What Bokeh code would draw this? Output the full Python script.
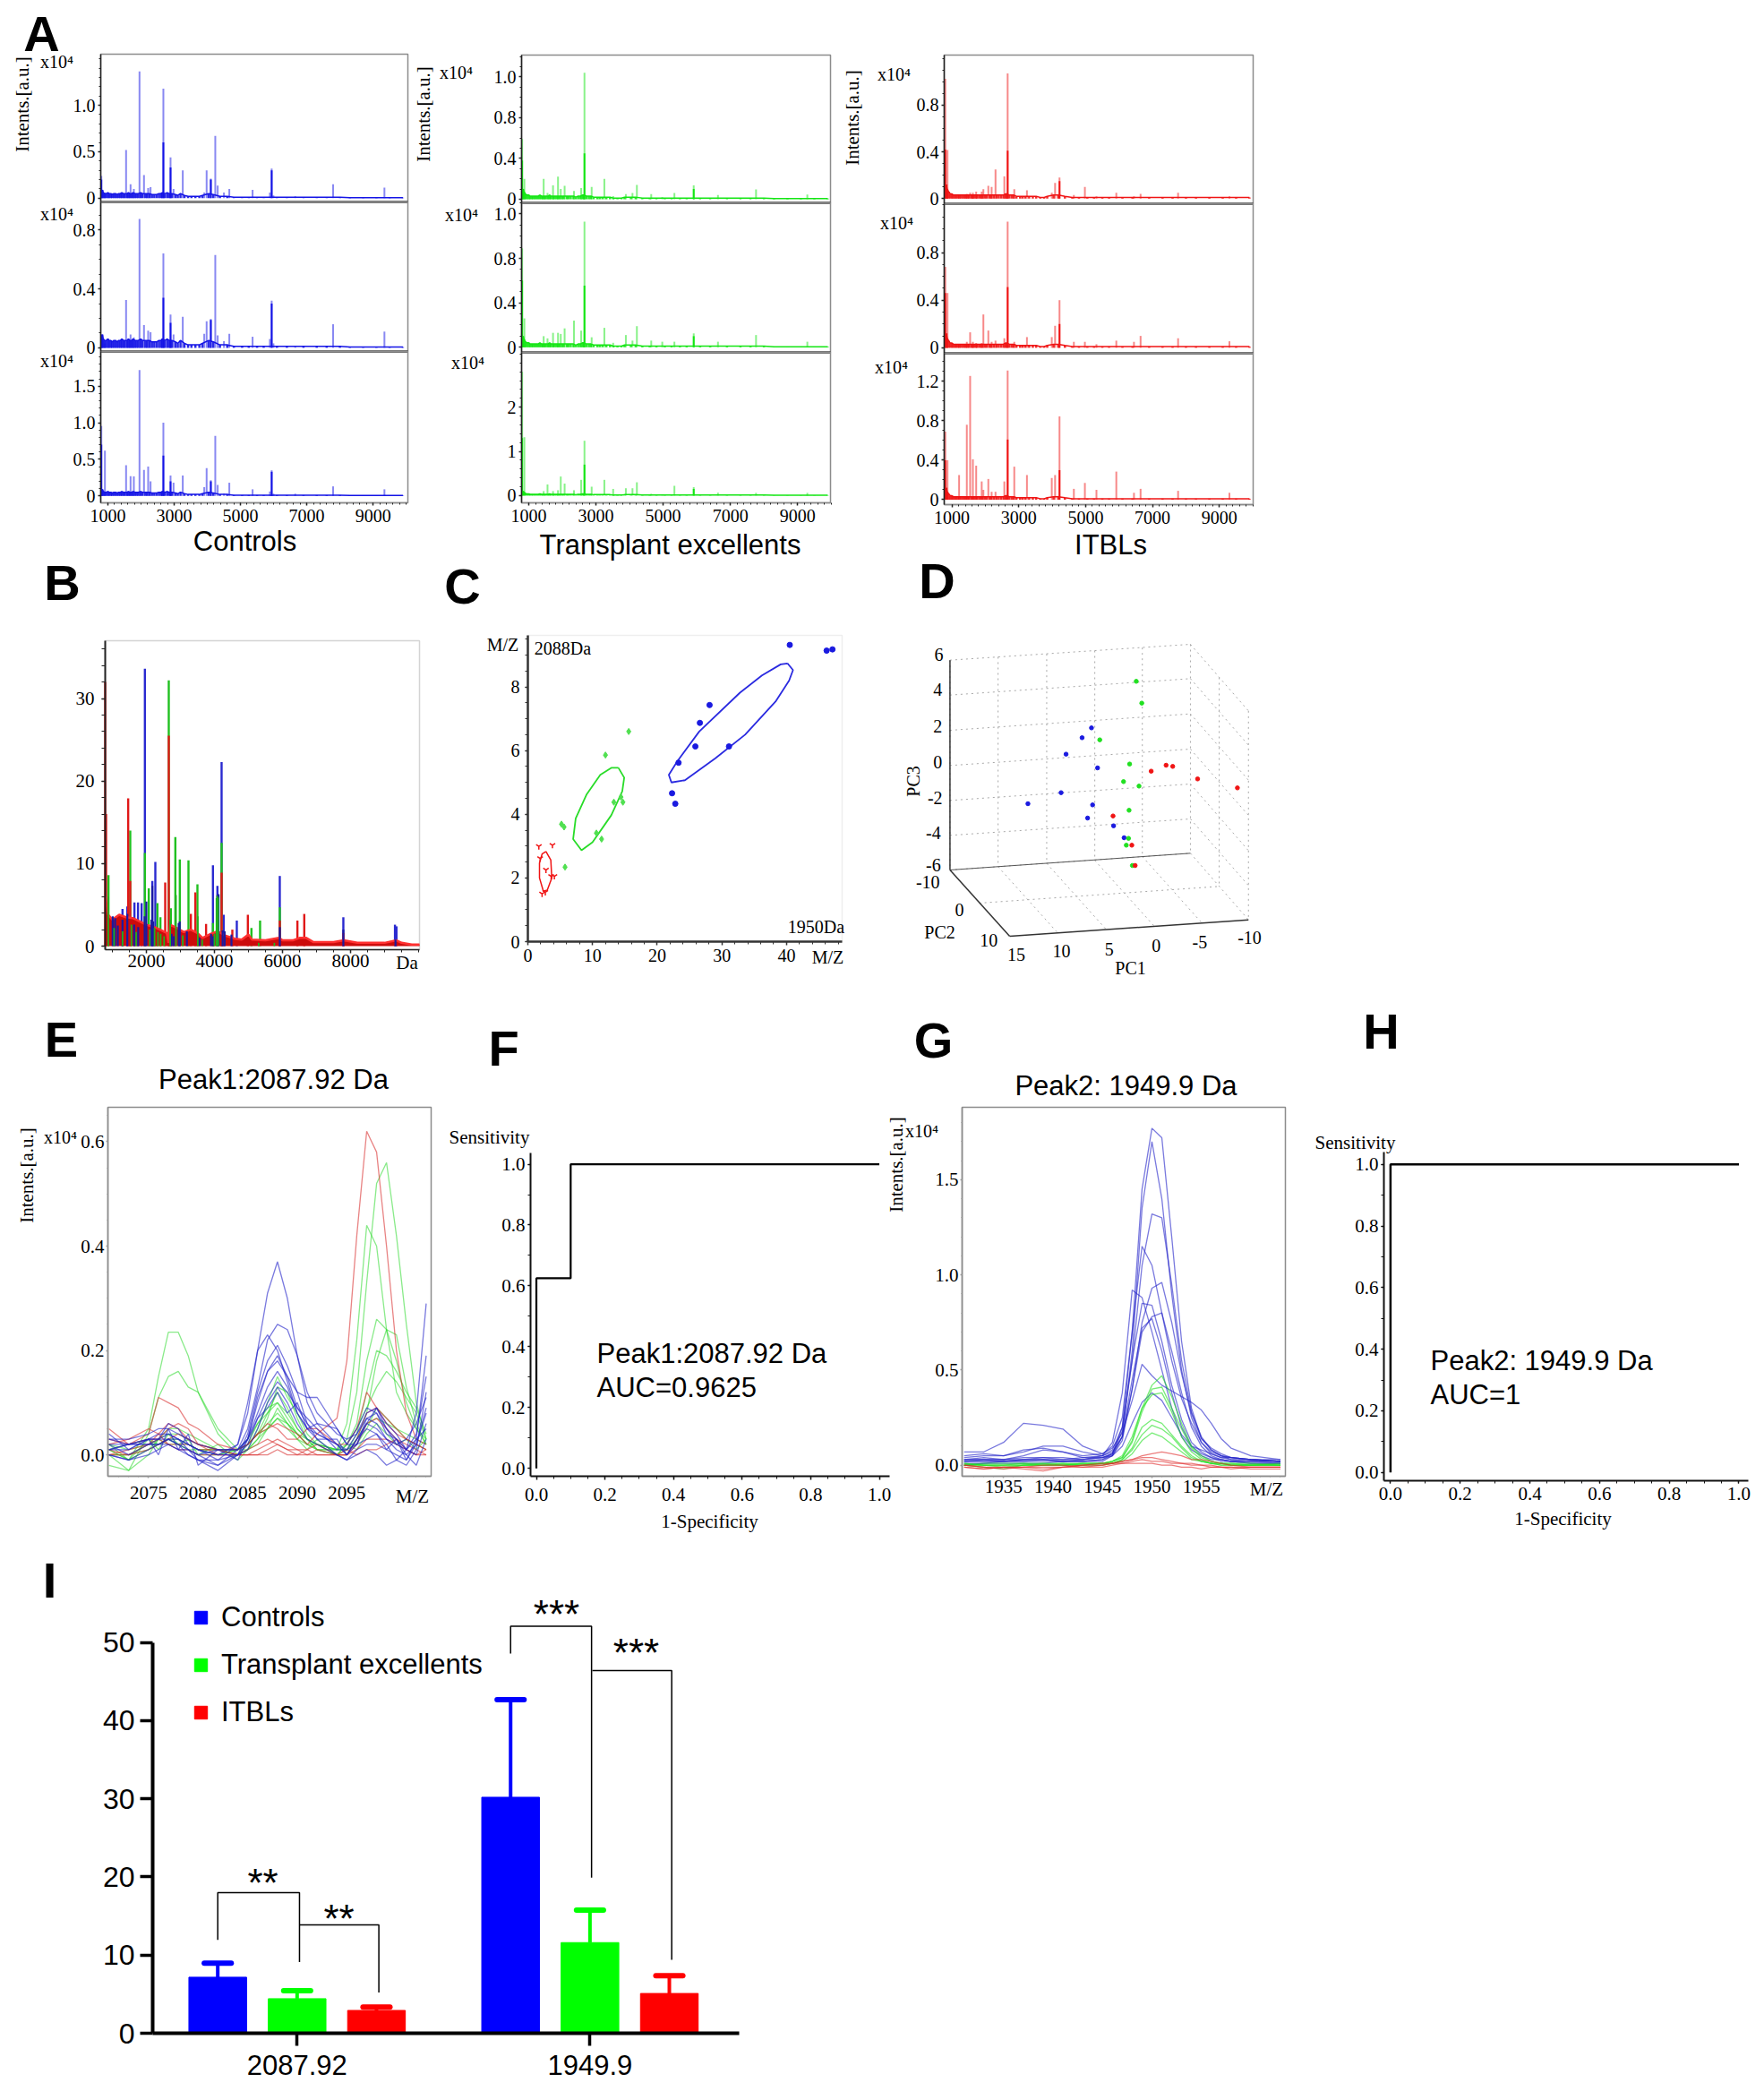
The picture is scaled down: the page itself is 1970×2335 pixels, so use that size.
import math
import numpy as np
from bokeh.core.properties import value
from bokeh.plotting import figure
from bokeh.models import Range1d, Label, FixedTicker, Legend, LegendItem, LinearAxis
from bokeh.embed import file_html
from bokeh.resources import INLINE

SERIF = "Liberation Serif"
SANS = "Liberation Sans"
BLUE, GREEN, RED = "#1414e6", "#14e614", "#f01414"
W, H = 1965, 2330

# ---------- A: spectra (intensity x10^4) ----------
BASE_MZ = [830,860,900,950,1000,1040,1090,1130,1180,1230,1280,1330,1380,1420,1470,1510,1580,1620,1660,1720,1760,1820,1870,1920,1990,2040,2130,2180,2250,2330,2400,2470,2540,2600,2640,2720,2790,2850,2930,3040,3110,3190,3310,3420,3520,3640,3760,3850,4040,4180,4380,4600,4800,5050,5250,5500,5700,6100,6400,6900,7300,7600,8000,8300,8700,9100,9500,9900]
CTRL_BASE = [.09,.06,.05,.05,.06,.05,.05,.04,.05,.05,.04,.05,.05,.06,.05,.05,.05,.06,.05,.05,.06,.05,.05,.05,.06,.05,.05,.05,.05,.04,.04,.04,.05,.05,.06,.05,.06,.05,.05,.04,.03,.05,.03,.02,.02,.02,.02,.03,.05,.04,.02,.02,.01,.01,.01,.01,.01,.01,.01,.01,.01,.01,.01,.005,.005,.005,.005,.005]
TX_BASE = [.10,.07,.05,.04,.04,.03,.03,.03,.03,.03,.03,.04,.03,.03,.03,.03,.03,.04,.03,.03,.03,.03,.03,.03,.03,.03,.03,.03,.03,.03,.02,.03,.03,.04,.04,.03,.03,.03,.02,.02,.02,.02,.02,.02,.01,.01,.01,.02,.02,.02,.01,.01,.01,.01,.01,.01,.01,.01,.01,.01,.01,.01,.01,.005,.005,.005,.005,.005]
ITBL_BASE = [.12,.08,.06,.04,.04,.03,.03,.03,.03,.03,.03,.03,.03,.03,.03,.03,.03,.03,.03,.03,.03,.03,.03,.03,.03,.03,.03,.03,.03,.03,.03,.03,.03,.04,.04,.03,.03,.03,.02,.02,.02,.02,.02,.02,.02,.01,.01,.02,.03,.03,.02,.01,.01,.01,.01,.01,.01,.01,.01,.01,.01,.01,.01,.01,.01,.01,.01,.01]

CTRL_MZ = [802,910,1549,1684,1783,1954,2089,2215,2287,2674,2890,2980,3259,3907,3979,4105,4240,4312,4501,4663,5365,5887,5941,5995,6652,7795,9343]
CTRL1 = [.24,.06,.52,.15,.1,1.365,.25,.11,.12,1.18,.44,.1,.3,.06,.3,.21,.67,.135,.06,.1,.09,.06,.32,.03,.02,.15,.115]
CTRL2 = [.09,.03,.325,.09,.07,.875,.155,.117,.105,.64,.225,.09,.21,.095,.18,.195,.63,.085,.045,.095,.075,.06,.32,.03,.01,.16,.11]
CTRL3 = [.955,.62,.42,.27,.265,1.72,.355,.4,.2,1.0,.28,.18,.28,.12,.38,.215,.82,.15,.03,.18,.09,.06,.35,.03,.03,.13,.09]
CTRL_DARK_MZ = [802,2674,2890,4105,5941]
CTRL1_DARK = [.2,.6,.33,.2,.3]
CTRL2_DARK = [.08,.34,.17,.19,.3]
CTRL3_DARK = [.7,.55,.2,.2,.33]

TX_MZ = [803,869,1443,1558,1722,1870,1952,2067,2346,2560,2658,2872,3250,3512,3890,4087,4218,4645,4974,5335,5910,6632,7765,9292]
TX1 = [.59,.2,.2,.06,.135,.22,.1,.13,.08,.11,1.24,.12,.2,.03,.05,.06,.14,.05,.02,.06,.135,.04,.095,.045]
TX2 = [.89,.26,.1,.08,.13,.13,.12,.17,.24,.15,1.13,.09,.175,.04,.11,.06,.19,.06,.05,.05,.125,.05,.11,.05]
TX3 = [2.8,1.32,.1,.25,.1,.12,.43,.27,.12,.355,1.24,.2,.355,.15,.165,.165,.3,.04,.03,.22,.19,.065,.06,.06]
TX_DARK_MZ = [803,2658,5910]
TX1_DARK = [.38,.45,.1]
TX2_DARK = [.6,.555,.1]
TX3_DARK = [1.3,.7,.15]

ITBL_MZ = [802,868,1215,1446,1545,1627,1726,1891,1941,2089,2188,2304,2568,2667,2865,3244,3987,4086,4218,4647,4977,5323,5917,6445,6643,7765,9300]
ITBL1 = [1.025,.415,.03,.04,.05,.05,.06,.06,.08,.11,.1,.25,.19,1.07,.08,.07,.05,.135,.18,.03,.1,.02,.05,.02,.04,.05,.02]
ITBL2 = [.68,.46,.03,.05,.13,.05,.04,.04,.28,.145,.05,.06,.08,1.06,.05,.09,.09,.185,.4,.05,.05,.03,.06,.05,.1,.08,.055]
ITBL3 = [.69,.4,.25,.76,1.255,.41,.345,.185,.1,.21,.08,.08,.185,1.31,.335,.25,.22,.25,.845,.11,.17,.1,.285,.07,.11,.09,.07]
ITBL_DARK_MZ = [802,2667,4218]
ITBL1_DARK = [.42,.41,.15]
ITBL2_DARK = [.46,.51,.2]
ITBL3_DARK = [.4,.61,.3]

# ---------- B: average spectra ----------
B_BLUE_MZ = [1298,1439,1649,1754,1860,1956,2175,2263,3956,4087,4210,4271,4657,5920,7788,9305,9349]
B_BLUE = [4.5,4.8,5.3,5.3,5.2,33.6,7.9,10.2,9.8,7.3,22.3,3.8,3.1,8.5,3.5,2.6,2.4]
B_GREEN_MZ = [886,1526,1956,2070,2324,2412,2658,2719,2851,2982,3237,3500,3956,4210,5087,5341,5920]
B_GREEN = [8.6,14,11.3,7,5.2,3.5,32.2,4.6,13.2,10.5,10.4,7.5,2.8,12.5,2.2,3.1,4.7]
B_RED_MZ = [790,816,1465,1526,2553,2658,3307,3438,3754,4210,4526,4982,5920,6438,6639,7788]
B_RED = [32,16,17.9,7.9,7.7,25.5,3.9,6.5,2.7,8.9,2,3.8,3.1,3.1,3.9,1.6]
B_ENV_MZ = [790,830,880,1000,1200,1400,1600,1800,2000,2300,2600,2650,2700,2900,3100,3300,3500,3650,3900,4100,4300,4600,4800,5000,5100,5500,5900,6000,6300,6500,6700,6900,7500,7800,8200,9000,9350,9500,9800,10026]
B_ENV = [6,5,3.8,3.2,3.8,3.5,3.4,3,2.6,2.2,1.6,.4,2.6,2.2,1.7,2,1.6,1,1.5,1.8,1.3,.9,.8,1.4,.8,.7,1,.7,.7,1,1,.5,.5,.7,.4,.4,.7,.4,.2,.2]
B_BLUE_LOW_MZ = [1010,1080,1160,1298,1439,1640,1760,1950,2000,2150,2175,2200,2740,2800,2950,2980,3190,3560,3900,3960,4090,4120,4240,4300,4500,5920,7788,9320]
B_BLUE_LOW = [3.6,3.4,2.5,3.2,3.9,2.6,2.3,3.6,5.4,3.2,7.3,3,1.5,1.2,2.8,3,1.8,1,1.5,1.2,6.2,6.3,1.9,1.8,1.4,2.3,2,.8]
B_GREEN_LOW_MZ = [880,1050,1300,1560,1700,2100,2240,2340,2420,2520,2700,2870,3070,3510,3640,4000,4060,4080,4110,5300,5760]
B_GREEN_LOW = [6,2.2,1.8,2.6,1.7,2,2.2,1.7,1.5,1.2,3.2,6.2,1.3,3.6,.8,1.5,5.8,6.1,5.9,.4,.4]

# ---------- C: two-peak scatter ----------
C_BLUE_X = [40.5,46.2,47.1,28.1,26.6,25.9,31.1,23.3,22.3,22.8]
C_BLUE_Y = [9.32,9.14,9.18,7.43,6.87,6.13,6.13,5.62,4.66,4.33]
C_GREEN_X = [15.6,12,13.3,14.4,14.7,10.6,11.4,5.2,5.6,5.75]
C_GREEN_Y = [6.6,5.86,4.38,4.54,4.38,3.41,3.22,3.69,3.6,2.34]
C_RED_X = [1.7,3.8,1.9,2.8,3.6,4.1,2.2,2.7]
C_RED_Y = [2.99,3.03,2.61,2.25,2.05,2.05,1.5,1.55]
C_BLUE_RING_X = [40.15,41,40.4,38.3,33.6,29,24.3,22.2,21.8,23.1,26.5,32.8,36.2,39.1,40.15]
C_BLUE_RING_Y = [8.74,8.53,8.2,7.54,6.5,5.76,5.07,5.0,5.24,5.66,6.6,7.82,8.36,8.71,8.74]
C_GREEN_RING_X = [14,14.9,14.6,12.9,10,8.3,7,7.4,9.1,11.2,12.9,14]
C_GREEN_RING_Y = [5.46,5.15,4.72,3.97,3.12,2.87,3.22,3.87,4.63,5.24,5.46,5.46]
C_RED_RING_X = [2.8,3.55,3.7,3,2.4,1.8,1.8,2.2,2.8]
C_RED_RING_Y = [2.83,2.56,2,1.62,1.58,2,2.47,2.75,2.83]

# ---------- D: 3-D PCA, projected onto the picture plane ----------
D_BLUE_X = [1206,1189,1160,1217,1151,1091,1208,1199,1246,1265]
D_BLUE_Y = [577,610,665,711,794,831,835,879,905,945]
D_GREEN_X = [1287,1297,1221,1275,1264,1292,1274,1273,1269,1280]
D_GREEN_Y = [421,494,617,698,757,772,853,947,970,1038]
D_RED_X = [1341,1353,1314,1398,1470,1245,1279,1285]
D_RED_Y = [702,706,722,748,778,872,970,1038]
D_WALL_Y_LEFT = [350,467,585,703,820,937,1053]
D_WALL_Y_MID = [297,412,530,648,765,882,997]
D_WALL_Y_RIGHT = [520,635,752,870,988,1105,1220]
D_V_X = [950,1037,1125,1212,1298,1385]
D_V_TOP = [350,339,329,318,308,297]
D_V_BOT = [1053,1042,1031,1021,1008,997]
D_FLOOR_X = [1145,1233,1320,1406]
D_FLOOR_Y = [1264,1253,1242,1231]
D_YTICK = ["6","4","2","0","-2","-4","-6"]
D_YTICK_X = [930,928,928,928,923,920,920]
D_YTICK_Y = [330,448,570,692,810,928,1035]
D_PC1 = ["15","10","5","0","-5","-10"]
D_PC1_X = [1070,1152,1238,1323,1402,1492]
D_PC1_Y = [1335,1323,1318,1305,1295,1278]
D_PC2 = ["-10","0","10"]
D_PC2_X = [910,967,1020]
D_PC2_Y = [1092,1185,1287]

# ---------- E: peak 1 overlays ----------
E_X = [2071,2073,2075,2076,2077,2078,2079,2080,2082,2084,2085,2086,2087,2088,2089,2090,2091,2092,2094,2095,2096,2097,2098,2099,2100,2101,2102,2103]
E_GREEN = [
 [.01,-.01,.01,.02,.03,.02,.02,.01,.00,.01,.02,.04,.06,.08,.06,.04,.02,.01,.01,.03,.12,.33,.52,.56,.42,.25,.10,.03],
 [.00,.00,.02,.03,.02,.02,.01,.00,.00,.01,.03,.06,.09,.10,.07,.04,.02,.02,.01,.06,.22,.44,.40,.24,.12,.08,.05,.02],
 [.01,.02,.03,.02,.03,.03,.02,.01,.01,.00,.01,.03,.07,.13,.12,.07,.03,.02,.00,.02,.06,.18,.26,.24,.18,.10,.05,.03],
 [.00,.00,.01,.03,.04,.04,.03,.02,.01,.01,.02,.04,.05,.07,.06,.04,.03,.01,.01,.01,.03,.08,.18,.24,.23,.13,.06,.02],
 [.02,.01,.02,.02,.03,.02,.01,.01,.01,.00,.01,.05,.10,.15,.11,.08,.04,.02,.01,.01,.04,.12,.20,.19,.16,.12,.09,.04],
 [.01,-.01,.05,.15,.235,.235,.19,.12,.05,.01,.01,.03,.05,.09,.06,.03,.02,.01,.00,.01,.02,.05,.09,.07,.05,.03,.02,.01],
 [-.02,-.03,.04,.11,.15,.16,.13,.12,.04,.00,.02,.04,.08,.12,.09,.05,.03,.02,.01,.02,.05,.09,.13,.16,.14,.11,.08,.03],
 [.00,-.03,.00,.03,.05,.05,.04,.03,.01,.01,.02,.06,.08,.10,.08,.05,.03,.01,.00,.00,.03,.06,.07,.06,.05,.04,.03,.02],
 [.02,-.01,.03,.01,.04,.02,.03,.00,.02,-.01,.01,.02,.05,.07,.05,.03,.01,.03,.00,.02,.01,.04,.06,.04,.02,.03,.01,.03],
]
E_RED = [
 [.03,.02,.03,.03,.02,.02,.02,.01,.01,.01,.02,.04,.05,.06,.05,.04,.02,.04,.07,.18,.42,.62,.58,.40,.20,.08,.03,.02],
 [.05,.02,.04,.11,.10,.09,.06,.05,.02,.01,.02,.04,.06,.05,.03,.03,.05,.05,.02,.02,.05,.12,.09,.06,.04,.03,.02,.01],
 [.00,.01,.02,.04,.06,.05,.03,.02,.01,.00,.00,.01,.02,.03,.02,.01,.01,.00,.00,.00,.03,.08,.09,.07,.05,.03,.02,.01],
 [.01,.00,.01,.02,.03,.04,.03,.02,.00,.00,.00,.00,.01,.02,.01,.00,.01,.02,.00,.00,.01,.03,.03,.03,.02,.01,.00,.01],
 [.00,.00,.02,.03,.05,.06,.05,.02,.01,.00,.00,.00,.00,.01,.00,.00,.00,.00,.00,.01,.00,.01,.01,.02,.03,.01,.00,.00],
 [.02,.03,.05,.04,.02,.01,.01,.00,.00,.00,.01,.02,.03,.02,.01,.01,.00,.01,.00,.00,.02,.06,.07,.05,.03,.02,.01,.00],
]
E_BLUE = [
 [.01,.01,.03,.03,.04,.03,.02,.01,-.01,.02,.08,.20,.31,.37,.30,.19,.10,.06,.02,.01,.04,.08,.09,.06,.04,.01,.08,.29],
 [.02,.00,.02,.03,.03,.03,.01,.00,-.02,.01,.05,.13,.22,.25,.24,.19,.12,.08,.04,.03,.04,.07,.06,.03,.01,.00,.02,.09],
 [.03,.02,.03,.04,.04,.03,.02,.01,.00,.02,.10,.20,.23,.20,.14,.08,.05,.06,.05,.02,.05,.09,.08,.05,.02,.01,.04,.15],
 [.00,-.01,.01,.02,.03,.02,.01,-.01,-.03,.00,.04,.12,.18,.21,.17,.12,.06,.03,.00,-.01,.01,.02,.02,.01,.00,-.01,.03,.19],
 [.03,.03,.04,.05,.05,.04,.03,.02,.01,.01,.03,.10,.16,.19,.15,.09,.06,.04,.02,.00,.03,.06,.05,.03,.02,.03,.06,.11],
 [.01,.02,.02,.02,.02,.01,.01,.00,.01,.01,.03,.08,.13,.16,.13,.08,.05,.04,.02,.00,.02,.06,.09,.05,.03,.01,.00,.06],
 [.02,.02,.03,.03,.06,.05,.02,.01,.00,.00,.02,.07,.11,.14,.12,.09,.07,.05,.01,.01,.02,.07,.08,.04,.03,.00,-.02,.03],
 [.01,.02,.02,.02,.03,.02,.00,-.01,-.01,.00,.03,.11,.16,.18,.15,.12,.11,.11,.05,.02,.02,.03,.04,.02,-.01,-.02,.01,.12],
 [.00,-.01,.00,.01,.02,.01,.00,-.01,-.02,.00,.01,.05,.10,.13,.10,.06,.03,.02,.00,-.01,.00,.01,.00,-.02,-.01,.01,.03,.05],
 [.04,.01,.03,.00,.05,.01,.04,-.02,.01,-.01,.03,.07,.09,.12,.08,.10,.05,.03,.03,.00,.03,.05,.04,.01,.03,-.01,.02,.08],
]

# ---------- G: peak 2 overlays ----------
G_X = [1931,1933,1935,1937,1939,1941,1943,1945,1946,1947,1948,1949,1950,1951,1952,1953,1954,1955,1956,1957,1958,1960,1963]
G_BLUE = [
 [.03,.04,.03,.04,.04,.03,.04,.05,.08,.20,.70,1.45,1.77,1.72,1.20,.65,.30,.14,.08,.05,.04,.03,.02],
 [.02,.03,.03,.03,.03,.03,.03,.04,.06,.15,.60,1.35,1.70,1.40,.90,.50,.25,.12,.06,.04,.03,.02,.02],
 [.03,.03,.02,.03,.04,.04,.03,.04,.06,.18,.55,1.05,1.32,1.30,.95,.55,.28,.15,.08,.05,.03,.03,.02],
 [.05,.06,.05,.08,.09,.07,.05,.06,.10,.25,.70,1.15,1.05,.80,.55,.35,.22,.12,.07,.05,.04,.03,.03],
 [.02,.02,.02,.03,.03,.02,.03,.05,.12,.38,.92,.88,.70,.50,.30,.15,.08,.05,.03,.03,.02,.02,.01],
 [.04,.05,.05,.07,.10,.10,.07,.05,.07,.15,.40,.75,.93,.96,.75,.48,.27,.14,.09,.06,.04,.03,.02],
 [.01,.01,.02,.02,.02,.02,.02,.03,.06,.20,.55,.85,.84,.65,.42,.24,.12,.07,.04,.03,.02,.01,.01],
 [.00,.01,.01,.01,.01,.02,.02,.02,.05,.13,.40,.70,.78,.80,.60,.38,.20,.10,.05,.03,.02,.01,.01],
 [.02,.02,.02,.02,.03,.02,.02,.03,.05,.15,.45,.72,.77,.60,.38,.20,.10,.06,.04,.02,.02,.02,.02],
 [.07,.07,.12,.22,.21,.19,.10,.06,.09,.17,.34,.53,.47,.42,.39,.36,.33,.29,.22,.14,.09,.05,.03],
 [.03,.03,.03,.05,.08,.07,.04,.04,.05,.10,.22,.33,.38,.34,.25,.16,.10,.08,.06,.04,.04,.03,.02],
]
G_GREEN = [
 [.00,.01,.01,.01,.01,.01,.01,.01,.02,.04,.13,.30,.42,.47,.36,.22,.10,.05,.02,.01,.01,.01,.00],
 [.01,.00,.00,.01,.00,.00,.01,.01,.02,.04,.12,.28,.40,.41,.30,.19,.09,.04,.02,.01,.00,.00,.01],
 [.00,.00,-.01,.00,.01,.00,.00,.01,.02,.05,.15,.30,.37,.38,.28,.15,.07,.03,.01,.01,.01,.00,.00],
 [.01,.00,.00,.00,.00,.01,.00,.01,.01,.03,.09,.20,.24,.22,.16,.10,.05,.02,.01,.00,.00,.00,.00],
 [.00,-.01,-.02,.00,.00,.00,.01,.01,.01,.03,.08,.16,.21,.19,.15,.09,.04,.02,.01,.01,.00,.00,.00],
 [.00,.00,.00,.00,.00,.00,.00,.00,.01,.02,.06,.13,.17,.15,.11,.07,.03,.02,.01,.00,.00,.00,.00],
]
G_RED = [
 [.00,-.01,-.01,-.01,-.02,-.01,.00,.01,.01,.02,.03,.05,.06,.07,.06,.05,.03,.03,.02,.01,.00,-.01,-.01],
 [-.01,-.02,-.01,-.02,-.03,-.01,.00,.00,.01,.02,.03,.04,.04,.03,.02,.01,.01,.00,.00,-.01,-.01,-.01,-.01],
 [.00,-.01,-.02,-.01,-.01,-.01,-.01,.00,.01,.01,.02,.03,.02,.02,.01,.01,.00,.00,-.01,-.01,-.01,-.02,-.02],
 [-.01,-.02,-.01,-.01,.00,.00,-.01,-.01,.00,.01,.01,.01,.01,.00,.00,-.01,-.01,-.02,-.01,-.01,-.02,-.01,-.01],
]

# ---------- F / H: ROC ----------
F_FPR = [0,0,0.1,0.1,1.0]
F_TPR = [0,0.625,0.625,1.0,1.0]
H_FPR = [0,0,1.0]
H_TPR = [0,1.0,1.0]

# ---------- I: bars ----------
GROUPS = ["2087.92", "1949.9"]
GROUP_POS = [2, 5.69]
CONTROLS = [7.17, 30.2]
CONTROLS_ERR = [8.98, 42.7]
TX = [4.42, 11.6]
TX_ERR = [5.44, 15.75]
ITBLS = [2.92, 5.09]
ITBLS_ERR = [3.36, 7.35]
BR1_X, BR1_Y = [1,1,2.03,2.03], [11.95,18,18,9.1]
BR2_X, BR2_Y = [2.03,3.03,3.03], [13.86,13.86,5.2]
BR3_X, BR3_Y = [4.69,4.69,5.71,5.71], [48.6,52.1,52.1,19.9]
BR4_X, BR4_Y = [5.72,6.72,6.72], [46.4,46.4,9.4]

# One page-sized figure; every panel owns a named pair of ranges and its own axes.
PAGE = figure(width=W, height=H, output_backend="svg", toolbar_location=None,
              x_range=Range1d(0, W), y_range=Range1d(H, 0),
              x_axis_location=None, y_axis_location=None, min_border=0, frame_align=False,
              background_fill_color="white", border_fill_color="white")
PAGE.grid.visible = False
PAGE.outline_line_color = None
COUNT = [0]

class Panel:
    def __init__(self, frame, xr, yr, x_axis=True, y_axis=True, outline="#8c8c8c"):
        fl, ft, fr, fb = frame
        sx = (xr[1] - xr[0]) / (fr - fl)
        sy = (yr[1] - yr[0]) / (fb - ft)
        COUNT[0] += 1
        self.xn, self.yn = f"x{COUNT[0]}", f"y{COUNT[0]}"
        PAGE.extra_x_ranges[self.xn] = Range1d(xr[0] - fl * sx, xr[1] + (W - fr) * sx)
        PAGE.extra_y_ranges[self.yn] = Range1d(yr[0] - (H - fb) * sy, yr[1] + ft * sy)
        self.xaxis, self.yaxis = [], []
        if x_axis:
            a = LinearAxis(x_range_name=self.xn, y_range_name=self.yn, fixed_location=yr[0], bounds=tuple(xr))
            PAGE.add_layout(a, "below")
            self.xaxis.append(a)
        if y_axis:
            a = LinearAxis(x_range_name=self.xn, y_range_name=self.yn, fixed_location=xr[0], bounds=tuple(yr))
            PAGE.add_layout(a, "left")
            self.yaxis.append(a)
        if outline:
            self.quad(left=[xr[0]], right=[xr[1]], bottom=[yr[0]], top=[yr[1]],
                      fill_alpha=0, line_color=outline, line_width=1.5)

    def __getattr__(self, name):
        method = getattr(PAGE, name)
        def call(*a, **k):
            return method(*a, x_range_name=self.xn, y_range_name=self.yn, **k)
        return call

def txt(x, y, s, size=20, font=SERIF, angle=0, align="center", style="normal"):
    PAGE.add_layout(Label(x=x, y=y, x_units="canvas", y_units="canvas", text=s,
                          text_font=font, text_font_size=f"{size}px", text_font_style=style,
                          text_align=align, text_baseline="middle", angle=angle,
                          text_color="black"))

def letter(x, y, s):
    txt(x, y, s, size=56, font=SANS, style="bold")

def axis(ax, majors, labels, minors=(), size=20, font=SERIF, standoff=3, color="#222222",
         line_width=1.5, tick=3, minor=2, line_color=None):
    ax.ticker = FixedTicker(ticks=list(majors), minor_ticks=list(minors))
    ax.major_label_overrides = {m: l for m, l in zip(majors, labels)}
    ax.major_label_text_font = font
    ax.major_label_text_font_size = f"{size}px"
    ax.major_label_text_color = "black"
    ax.major_label_standoff = standoff
    ax.axis_line_color = line_color if line_color else color
    ax.axis_line_width = line_width
    ax.major_tick_line_color = color
    ax.minor_tick_line_color = color
    ax.major_tick_line_width = 1.5
    ax.minor_tick_line_width = 1
    ax.major_tick_in = 0
    ax.major_tick_out = tick
    ax.minor_tick_in = 0
    ax.minor_tick_out = minor

def stems(p, mz, h, color, alpha=1.0, width=1.5):
    xs = [m for m, _ in zip(mz, h)]
    ys = [v for _, v in zip(mz, h)]
    p.segment(x0=xs, y0=[0] * len(xs), x1=xs, y1=ys, line_color=color, line_alpha=alpha, line_width=width)

def spectrum(frame, xr, yr, color, mz, h, dmz, dh, base, yt, yl, ym, bottom):
    p = Panel(frame, xr, yr, x_axis=bottom)
    xs = [m for m, _ in zip(BASE_MZ, base)]
    p.line(xs, base[:len(xs)], line_color=color, line_width=1.5)
    stems(p, BASE_MZ, base, color, 0.9, 2.5)
    stems(p, mz, h, color, 0.5, 2)
    stems(p, dmz, dh, color, 1.0, 2)
    axis(p.yaxis[0], yt, yl, ym)
    if bottom:
        axis(p.xaxis[0], [1000,3000,5000,7000,9000], ["1000","3000","5000","7000","9000"],
             list(range(1000, 10001, 200)), standoff=4, line_color="#8c8c8c")
    else:
        p.segment(x0=[xr[0]], y0=[yr[0]], x1=[xr[1]], y1=[yr[0]], line_color="black", line_width=2)
    return p

def rng(a, b, s):
    return [round(float(v), 3) for v in np.arange(a, b + s / 2, s)]

X10 = "x10\u2074"
INT = "Intents.[a.u.]"
UP = math.pi / 2

# ---- Panel A ----
spectrum((112,60,455,225),(784,10050),(-0.04,1.55),BLUE,CTRL_MZ,CTRL1,CTRL_DARK_MZ,CTRL1_DARK,CTRL_BASE,[0,.5,1.0],["0","0.5","1.0"],rng(0,1.5,.1),False)
spectrum((112,225,455,392),(784,10050),(-0.025,0.99),BLUE,CTRL_MZ,CTRL2,CTRL_DARK_MZ,CTRL2_DARK,CTRL_BASE,[0,.4,.8],["0","0.4","0.8"],rng(0,.9,.1),False)
spectrum((112,392,455,561),(784,10050),(-0.095,1.975),BLUE,CTRL_MZ,CTRL3,CTRL_DARK_MZ,CTRL3_DARK,CTRL_BASE,[0,.5,1.0,1.5],["0","0.5","1.0","1.5"],rng(0,1.9,.1),True)
letter(46, 37, "A")
txt(24, 116, INT, 21, angle=UP)
txt(63, 68, X10, 20)
txt(63, 238, X10, 20)
txt(63, 402, X10, 20)
txt(273, 604, "Controls", 31, SANS)

spectrum((582,61,927,226),(786,9982),(-0.036,1.414),GREEN,TX_MZ,TX1,TX_DARK_MZ,TX1_DARK,TX_BASE,[0,.4,.8,1.2],["0","0.4","0.8","1.0"],rng(0,1.4,.1),False)
spectrum((582,226,927,393),(786,9982),(-0.046,1.3),GREEN,TX_MZ,TX2,TX_DARK_MZ,TX2_DARK,TX_BASE,[0,.4,.8,1.2],["0","0.4","0.8","1.0"],rng(0,1.3,.1),False)
spectrum((582,393,927,561),(786,9982),(-0.165,3.24),GREEN,TX_MZ,TX3,TX_DARK_MZ,TX3_DARK,TX_BASE,[0,1,2],["0","1","2"],rng(0,3.2,.2),True)
txt(472, 127, INT, 21, angle=UP)
txt(509, 80, X10, 20)
txt(515, 239, X10, 20)
txt(522, 404, X10, 20)
txt(748, 608, "Transplant excellents", 31, SANS)

spectrum((1054,61,1399,227),(770,10010),(-0.044,1.228),RED,ITBL_MZ,ITBL1,ITBL_DARK_MZ,ITBL1_DARK,ITBL_BASE,[0,.4,.8],["0","0.4","0.8"],rng(0,1.2,.1),False)
spectrum((1054,227,1399,394),(770,10010),(-0.046,1.21),RED,ITBL_MZ,ITBL2,ITBL_DARK_MZ,ITBL2_DARK,ITBL_BASE,[0,.4,.8],["0","0.4","0.8"],rng(0,1.2,.1),False)
spectrum((1054,394,1399,563),(770,10010),(-0.05,1.485),RED,ITBL_MZ,ITBL3,ITBL_DARK_MZ,ITBL3_DARK,ITBL_BASE,[0,.4,.8,1.2],["0","0.4","0.8","1.2"],rng(0,1.4,.1),True)
txt(951, 131, INT, 21, angle=UP)
txt(998, 82, X10, 20)
txt(1001, 248, X10, 20)
txt(995, 409, X10, 20)
txt(1240, 608, "ITBLs", 31, SANS)

# ---- Panel B ----
b = Panel((117,715,468,1060),(790,10026),(-0.43,37.0),outline="#d4d4d4")
stems(b, B_BLUE_MZ, B_BLUE, "#2a2ad0", 1, 2.4)
stems(b, B_GREEN_MZ, B_GREEN, "#20c020", 1, 2.4)
stems(b, B_RED_MZ, B_RED, "#e01818", 1, 2.4)
b.varea(x=B_ENV_MZ, y1=[0]*len(B_ENV), y2=B_ENV, fill_color="#cc0c0c")
b.line(B_ENV_MZ, B_ENV, line_color="#ff3030", line_width=2.5)
stems(b, B_BLUE_LOW_MZ, B_BLUE_LOW, "#1a1aa0", 1, 2.2)
stems(b, B_GREEN_LOW_MZ, B_GREEN_LOW, "#20b020", 1, 1.8)
axis(b.xaxis[0], [2000,4000,6000,8000], ["2000","4000","6000","8000"], list(range(1000,10001,500)), size=21, standoff=1, tick=4, minor=3)
axis(b.yaxis[0], [0,10,20,30], ["0","10","20","30"], rng(0,36,2), size=21, standoff=8, line_width=2, tick=4, minor=4)
letter(69, 650, "B")
txt(454, 1074, "Da", 21)

# ---- Panel C ----
c = Panel((589,709,940,1051),(0,48.6),(0,9.62),outline="#eeeeee")
c.line(C_BLUE_RING_X, C_BLUE_RING_Y, line_color="#2a2ae0", line_width=1.8)
c.line(C_GREEN_RING_X, C_GREEN_RING_Y, line_color="#28dc28", line_width=1.8)
c.line(C_RED_RING_X, C_RED_RING_Y, line_color="#f01414", line_width=1.5)
c.scatter(C_BLUE_X, C_BLUE_Y, marker="circle", size=6, color="#1a1ae0")
c.scatter(C_GREEN_X, C_GREEN_Y, marker="diamond", size=7, color="#50e050")
c.scatter(C_RED_X, C_RED_Y, marker="y", size=7, line_color="#f01414", line_width=1.5)
axis(c.xaxis[0], [0,10,20,30,40], ["0","10","20","30","40"], rng(0,48,2), standoff=4, color="#333333", line_width=2.5, tick=4, minor=3)
axis(c.yaxis[0], [0,2,4,6,8], ["0","2","4","6","8"], rng(0,9.5,.5), standoff=6, color="#333333", line_width=2.5, tick=3, minor=3)
letter(516, 654, "C")
txt(561, 719, "M/Z", 20)
txt(628, 723, "2088Da", 20)
txt(911, 1034, "1950Da", 20)
txt(924, 1068, "M/Z", 20)

# ---- Panel D ----
d = Panel((994,626,1414,1120),(842.4,1522.8),(1500,18),x_axis=False,y_axis=False,outline=None)
DOT = dict(line_color="#a8a8a8", line_width=1, line_dash="dotted")
d.segment(x0=[D_V_X[0]]*7, y0=D_WALL_Y_LEFT, x1=[D_V_X[-1]]*7, y1=D_WALL_Y_MID, **DOT)
d.segment(x0=[D_V_X[-1]]*7, y0=D_WALL_Y_MID, x1=[1490]*7, y1=D_WALL_Y_RIGHT, **DOT)
d.segment(x0=D_V_X, y0=D_V_TOP, x1=D_V_X, y1=D_V_BOT, **DOT)
d.segment(x0=[1437,1490,1003], y0=[408,520,1164], x1=[1437,1490,1437], y1=[1108,1220,1108], **DOT)
d.segment(x0=D_V_X[1:5], y0=D_V_BOT[1:5], x1=D_FLOOR_X, y1=D_FLOOR_Y, **DOT)
d.segment(x0=[950], y0=[1053], x1=[1385], y1=[997], line_color="#555555", line_width=1)
d.segment(x0=[950,1058,950], y0=[1053,1275,350], x1=[1058,1490,950], y1=[1275,1220,1053], line_color="#333333", line_width=1.5)
d.scatter(D_BLUE_X, D_BLUE_Y, size=4.5, color="#1a1ae0")
d.scatter(D_GREEN_X, D_GREEN_Y, size=4.5, color="#20e020")
d.scatter(D_RED_X, D_RED_Y, size=4.5, color="#f01414")
D_FONT = dict(text_font=value(SERIF), text_font_size=value("20px"), text_align="center", text_baseline="middle", text_color="black")
d.text(D_YTICK_X, D_YTICK_Y, text=D_YTICK, **D_FONT)
d.text(D_PC1_X, D_PC1_Y, text=D_PC1, **D_FONT)
d.text(D_PC2_X, D_PC2_Y, text=D_PC2, **D_FONT)
letter(1046, 648, "D")
txt(1019, 872, "PC3", 20, angle=UP)
txt(1049, 1040, "PC2", 20)
txt(1262, 1080, "PC1", 20)

# ---- Panel E ----
e = Panel((120,1236,481,1648),(2070.9,2103.5),(-0.041,0.666))
for s in E_GREEN:
    e.line(E_X, s, line_color="#28d828", line_alpha=0.55, line_width=1.3)
for s in E_RED:
    e.line(E_X, s, line_color="#d83030", line_alpha=0.6, line_width=1.3)
for s in E_BLUE:
    e.line(E_X, s, line_color="#2020c8", line_alpha=0.6, line_width=1.3)
axis(e.xaxis[0], [2075,2080,2085,2090,2095], ["2075","2080","2085","2090","2095"], rng(2072,2103,1), size=21, standoff=9, color="#999999", line_color="#8c8c8c", tick=2, minor=1)
axis(e.yaxis[0], [0,.2,.4,.6], ["0.0","0.2","0.4","0.6"], rng(0,.65,.05), size=21, standoff=2, color="#999999", line_color="#8c8c8c", tick=2, minor=1)
letter(68, 1160, "E")
txt(305, 1205, "Peak1:2087.92 Da", 31, SANS)
txt(29, 1312, INT, 21, angle=UP)
txt(67, 1269, X10, 20)
txt(460, 1670, "M/Z", 21)

# ---- Panel F ----
f = Panel((592,1287,993,1648),(-0.017,1.03),(-0.026,1.037),outline=None)
f.line(F_FPR, F_TPR, line_color="black", line_width=2.2)
axis(f.xaxis[0], [0,.2,.4,.6,.8,1.0], ["0.0","0.2","0.4","0.6","0.8","1.0"], rng(0,1,.05), size=21, standoff=9, color="#111111", line_width=2, tick=4, minor=3)
axis(f.yaxis[0], [0,.2,.4,.6,.8,1.0], ["0.0","0.2","0.4","0.6","0.8","1.0"], rng(0,1,.1), size=21, standoff=3, color="#111111", line_width=2, tick=3, minor=3)
letter(562, 1170, "F")
txt(546, 1269, "Sensitivity", 21)
txt(792, 1698, "1-Specificity", 21)
txt(666, 1511, "Peak1:2087.92 Da", 31, SANS, align="left")
txt(666, 1549, "AUC=0.9625", 31, SANS, align="left")

# ---- Panel G ----
g = Panel((1074,1236,1435,1648),(1930.8,1963.5),(-0.058,1.88))
for s in G_BLUE:
    g.line(G_X, s, line_color="#2020c8", line_alpha=0.6, line_width=1.3)
for s in G_GREEN:
    g.line(G_X, s, line_color="#20e020", line_alpha=0.6, line_width=1.3)
for s in G_RED:
    g.line(G_X, s, line_color="#e02828", line_alpha=0.6, line_width=1.3)
axis(g.xaxis[0], [1935,1940,1945,1950,1955], ["1935","1940","1945","1950","1955"], rng(1932,1963,1), size=21, standoff=2, color="#999999", line_color="#8c8c8c", tick=2, minor=1)
axis(g.yaxis[0], [0,.5,1.0,1.5], ["0.0","0.5","1.0","1.5"], rng(0,1.8,.1), size=21, standoff=2, color="#999999", line_color="#8c8c8c", tick=2, minor=1)
letter(1042, 1161, "G")
txt(1257, 1212, "Peak2: 1949.9 Da", 31, SANS)
txt(1000, 1300, INT, 21, angle=UP)
txt(1029, 1262, X10, 20)
txt(1414, 1662, "M/Z", 21)

# ---- Panel H ----
h = Panel((1545,1286,1952,1653),(-0.019,1.027),(-0.027,1.04),outline=None)
h.line(H_FPR, H_TPR, line_color="black", line_width=2.5)
axis(h.xaxis[0], [0,.2,.4,.6,.8,1.0], ["0.0","0.2","0.4","0.6","0.8","1.0"], rng(0,1,.05), size=21, standoff=4, color="#111111", line_width=2, tick=3, minor=3)
axis(h.yaxis[0], [0,.2,.4,.6,.8,1.0], ["0.0","0.2","0.4","0.6","0.8","1.0"], rng(0,1,.1), size=21, standoff=3, color="#111111", line_width=2, tick=3, minor=3)
letter(1542, 1151, "H")
txt(1513, 1275, "Sensitivity", 21)
txt(1745, 1695, "1-Specificity", 21)
txt(1597, 1519, "Peak2: 1949.9 Da", 31, SANS, align="left")
txt(1597, 1557, "AUC=1", 31, SANS, align="left")

# ---- Panel I ----
pi_ = Panel((170,1770,825,2270),(0.18,7.57),(0,57.3),outline=None)
BAR_W = 0.727
def bars(vals, errs, off, color):
    xs = [g_ + off for g_ in GROUP_POS]
    r = pi_.vbar(x=xs, top=vals, width=BAR_W, bottom=0, fill_color=color, line_color=color)
    pi_.segment(x0=xs, y0=vals, x1=xs, y1=errs, line_color=color, line_width=4)
    pi_.segment(x0=[v - 0.17 for v in xs], y0=errs, x1=[v + 0.17 for v in xs], y1=errs,
                line_color=color, line_width=6, line_cap="round")
    return r
r1 = bars(CONTROLS, CONTROLS_ERR, -1, "#0000ff")
r2 = bars(TX, TX_ERR, 0, "#00ff00")
r3 = bars(ITBLS, ITBLS_ERR, 1, "#ff0000")
for bx, by in [(BR1_X, BR1_Y), (BR2_X, BR2_Y), (BR3_X, BR3_Y), (BR4_X, BR4_Y)]:
    pi_.line(bx, by, line_color="black", line_width=1.5)
axis(pi_.xaxis[0], GROUP_POS, GROUPS, size=31, font=SANS, standoff=10, color="black", line_width=4, tick=14)
pi_.xaxis[0].major_tick_line_width = 3.5
axis(pi_.yaxis[0], [0,10,20,30,40,50], ["0","10","20","30","40","50"], size=32, font=SANS, standoff=6, color="black", line_width=4, tick=14)
pi_.yaxis[0].major_tick_line_width = 3.5
pi_.yaxis[0].bounds = (0, 50)
leg = Legend(items=[LegendItem(label="Controls", renderers=[r1]),
                    LegendItem(label="Transplant excellents", renderers=[r2]),
                    LegendItem(label="ITBLs", renderers=[r3])],
             location=(215, 400), background_fill_alpha=0, border_line_color=None,
             label_text_font=SANS, label_text_font_size="31px", label_text_color="black", label_standoff=14,
             glyph_width=18, glyph_height=18, spacing=17, padding=0, margin=0)
PAGE.add_layout(leg)
letter(55, 1764, "I")
txt(293, 2102, "**", 44, SANS)
txt(378, 2142, "**", 44, SANS)
txt(621, 1802, "***", 44, SANS)
txt(710, 1845, "***", 44, SANS)

open("out.html", "w").write(file_html(PAGE, INLINE))
